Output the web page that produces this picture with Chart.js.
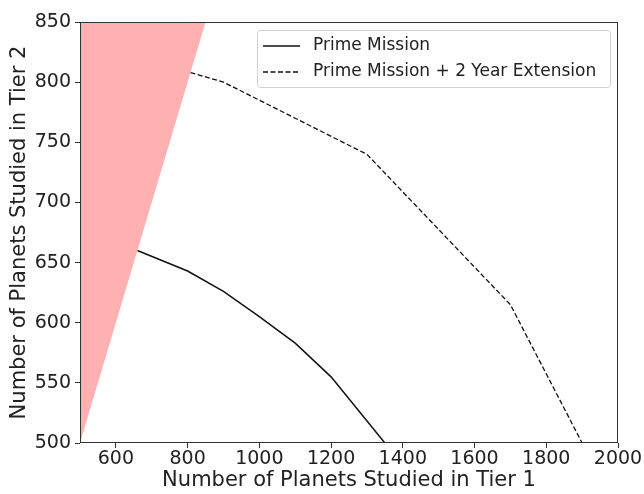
<!DOCTYPE html>
<html>
<head>
<meta charset="utf-8">
<script src="https://cdn.jsdelivr.net/npm/chart.js@4.4.1/dist/chart.umd.min.js"></script>
<style>
  html, body { margin: 0; padding: 0; background: #fff; }
</style>
</head>
<body>
<canvas id="chart" width="644" height="494"></canvas>
<script>
// values
const primeX = [660, 800, 900, 1000, 1100, 1200, 1350];
const primeY = [660, 643, 626, 605, 583, 555, 500];
const extX = [808, 900, 1300, 1700, 1900];
const extY = [808, 800, 740, 615, 500];
const zoneX = [500, 850];
const zoneY = [500, 850];
const xTicks = [600, 800, 1000, 1200, 1400, 1600, 1800, 2000];
const yTicks = [500, 550, 600, 650, 700, 750, 800, 850];

const FONT = 'DejaVu Sans';
const toPts = (xs, ys) => xs.map((x, i) => ({ x: x, y: ys[i] }));

// frame round the plot area, like matplotlib spines
const framePlugin = {
    id: 'frame',
    afterDatasetsDraw(chart) {
        const a = chart.chartArea;
        const ctx = chart.ctx;
        ctx.save();
        ctx.strokeStyle = '#333';
        ctx.lineWidth = 1;
        ctx.strokeRect(a.left + 0.5, a.top + 0.5, a.right - a.left - 1, a.bottom - a.top - 1);
        ctx.restore();
    }
};

// legend inside the plot, upper right
const legendPlugin = {
    id: 'innerLegend',
    afterDraw(chart) {
        const ctx = chart.ctx;
        const items = chart.data.datasets.filter(d => d.label);
        const x0 = 257, y0 = 30, w = 353, h = 57;
        ctx.save();
        ctx.fillStyle = 'rgba(255,255,255,0.8)';
        ctx.strokeStyle = '#d0d0d0';
        ctx.lineWidth = 1;
        ctx.beginPath();
        ctx.roundRect(x0 + 0.5, y0 + 0.5, w, h, 3);
        ctx.fill();
        ctx.stroke();
        ctx.font = '17px "' + FONT + '"';
        ctx.textBaseline = 'middle';
        items.forEach((d, i) => {
            const cy = y0 + 16 + i * 26;
            ctx.strokeStyle = d.borderColor;
            ctx.lineWidth = d.borderWidth;
            ctx.setLineDash(d.borderDash || []);
            ctx.beginPath();
            ctx.moveTo(263, cy);
            ctx.lineTo(300, cy);
            ctx.stroke();
            ctx.setLineDash([]);
            ctx.fillStyle = '#222';
            ctx.fillText(d.label, 313, cy);
        });
        ctx.restore();
    }
};

new Chart(document.getElementById('chart'), {
    type: 'scatter',
    data: {
        datasets: [
            {
                data: toPts(zoneX, zoneY),
                showLine: true,
                borderWidth: 0,
                borderColor: 'rgba(0,0,0,0)',
                backgroundColor: 'rgba(255,176,176,1)',
                pointRadius: 0,
                fill: 'end'
            },
            {
                label: 'Prime Mission',
                data: toPts(primeX, primeY),
                showLine: true,
                borderColor: '#111',
                borderWidth: 1.5,
                pointRadius: 0,
                fill: false
            },
            {
                label: 'Prime Mission + 2 Year Extension',
                data: toPts(extX, extY),
                showLine: true,
                borderColor: '#111',
                borderWidth: 1.3,
                borderDash: [5, 2.5],
                pointRadius: 0,
                fill: false
            }
        ]
    },
    options: {
        responsive: false,
        animation: false,
        layout: { padding: { top: 22, right: 26, left: 0, bottom: 0 } },
        plugins: {
            legend: { display: false },
            tooltip: { enabled: false }
        },
        scales: {
            x: {
                type: 'linear',
                min: 500,
                max: 2000,
                afterBuildTicks: axis => { axis.ticks = xTicks.map(v => ({ value: v })); },
                afterFit: axis => { axis.height = 51; },
                border: { display: false },
                grid: { drawOnChartArea: false, drawTicks: true, tickLength: 5, color: '#333' },
                ticks: {
                    color: '#222',
                    font: { family: FONT, size: 19 },
                    padding: 0,
                    maxRotation: 0,
                    callback: v => String(v)
                },
                title: {
                    display: true,
                    text: 'Number of Planets Studied in Tier 1',
                    color: '#222',
                    font: { family: FONT, size: 21 },
                    padding: { top: 0, bottom: 1 }
                }
            },
            y: {
                type: 'linear',
                min: 500,
                max: 850,
                afterBuildTicks: axis => { axis.ticks = yTicks.map(v => ({ value: v })); },
                afterFit: axis => { axis.width = 80; },
                border: { display: false },
                grid: { drawOnChartArea: false, drawTicks: true, tickLength: 5, color: '#333' },
                ticks: {
                    color: '#222',
                    font: { family: FONT, size: 19 },
                    padding: 4,
                    callback: v => String(v)
                },
                title: {
                    display: true,
                    text: 'Number of Planets Studied in Tier 2',
                    color: '#222',
                    font: { family: FONT, size: 21 },
                    padding: { top: 7, bottom: 0 }
                }
            }
        }
    },
    plugins: [framePlugin, legendPlugin]
});
</script>
</body>
</html>
